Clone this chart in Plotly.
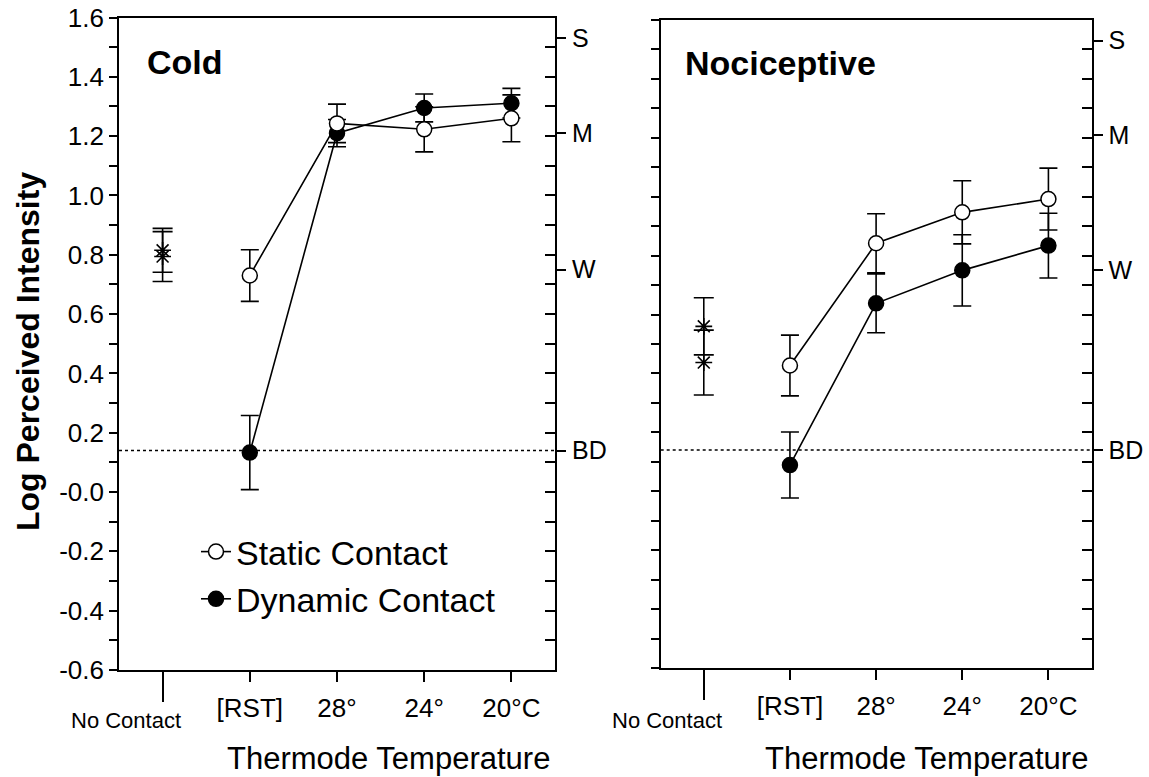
import plotly.graph_objects as go

# ---------------- data ----------------
temp_labels = ["[RST]", "28°", "24°", "20°C"]
no_contact_label = "No Contact"

cold_static = [0.73, 1.243, 1.223, 1.26]
cold_static_err = [0.087, 0.065, 0.076, 0.079]
cold_dynamic = [0.133, 1.21, 1.295, 1.311]
cold_dynamic_err = [0.125, 0.046, 0.047, 0.05]
cold_nocontact = [0.815, 0.794]
cold_nocontact_err = [0.074, 0.084]

noci_static = [0.427, 0.842, 0.947, 0.992]
noci_static_err = [0.103, 0.10, 0.107, 0.105]
noci_dynamic = [0.089, 0.638, 0.75, 0.834]
noci_dynamic_err = [0.112, 0.10, 0.121, 0.11]
noci_nocontact = [0.56, 0.437]
noci_nocontact_err = [0.097, 0.11]

y_tick_vals = [1.6, 1.4, 1.2, 1.0, 0.8, 0.6, 0.4, 0.2, 0.0, -0.2, -0.4, -0.6]
y_tick_labels = ["1.6", "1.4", "1.2", "1.0", "0.8", "0.6", "0.4", "0.2", "-0.0", "-0.2", "-0.4", "-0.6"]
y_minor_vals = [round(-0.6 + 0.1 * i, 1) for i in range(23)]

scale_labels = ["BD", "W", "M", "S"]
scale_values = [0.14, 0.75, 1.21, 1.53]
bd_level = scale_values[0]

panel_titles = ["Cold", "Nociceptive"]
x_title = "Thermode Temperature"
y_title = "Log Perceived Intensity"

# ---------------- figure ----------------
FONT = "Liberation Sans, Arial, Helvetica, sans-serif"
W, H = 1149, 777
temp_x = list(range(1, len(temp_labels) + 1))
LW = 1.6

fig = go.Figure()


def add_panel(xa, ya, static, static_err, dyn, dyn_err, nc, nc_err, legend):
    # dynamic first so static markers sit on top
    fig.add_trace(go.Scatter(
        x=temp_x, y=dyn, mode="lines+markers", name="Dynamic Contact",
        xaxis=xa, yaxis=ya, showlegend=legend, legendrank=2,
        line=dict(color="black", width=LW),
        marker=dict(symbol="circle", size=15, color="black",
                    line=dict(color="black", width=1.5)),
        error_y=dict(type="data", array=dyn_err, visible=True,
                     color="black", thickness=LW, width=9),
    ))
    fig.add_trace(go.Scatter(
        x=temp_x, y=static, mode="lines+markers", name="Static Contact",
        xaxis=xa, yaxis=ya, showlegend=legend, legendrank=1,
        line=dict(color="black", width=LW),
        marker=dict(symbol="circle", size=15, color="white",
                    line=dict(color="black", width=1.5)),
        error_y=dict(type="data", array=static_err, visible=True,
                     color="black", thickness=LW, width=9),
    ))
    fig.add_trace(go.Scatter(
        x=[0] * len(nc), y=nc, mode="markers", name=no_contact_label,
        xaxis=xa, yaxis=ya, showlegend=False,
        marker=dict(symbol="asterisk-open", size=14, color="black",
                    line=dict(color="black", width=1.6)),
        error_y=dict(type="data", array=nc_err, visible=True,
                     color="black", thickness=LW, width=10),
    ))


add_panel("x", "y", cold_static, cold_static_err, cold_dynamic, cold_dynamic_err,
          cold_nocontact, cold_nocontact_err, True)
add_panel("x2", "y2", noci_static, noci_static_err, noci_dynamic, noci_dynamic_err,
          noci_nocontact, noci_nocontact_err, False)

# empty helper traces so the overlay axes get drawn
for xa, ya in (("x3", "y"), ("x", "y3"), ("x", "y5"),
               ("x4", "y2"), ("x2", "y4"), ("x2", "y6")):
    fig.add_trace(go.Scatter(x=[], y=[], xaxis=xa, yaxis=ya, mode="markers",
                             showlegend=False, hoverinfo="skip"))

xdom = [[119 / W, 555 / W], [660.7 / W, 1091.5 / W]]
ydom = [[1 - 670 / H, 1 - 17.5 / H], [1 - 668 / H, 1 - 20 / H]]
xr = [-0.5, 4.5]
yr = [-0.6, 1.6]

base_ax = dict(showgrid=False, zeroline=False, color="black", automargin=False)

layout = dict(
    width=W, height=H, autosize=False,
    margin=dict(l=0, r=0, t=0, b=0, pad=0, autoexpand=False),
    paper_bgcolor="white", plot_bgcolor="white",
    font=dict(family=FONT, color="black"),
    showlegend=True,
    legend=dict(x=196 / W, y=1 - 523 / H, xanchor="left", yanchor="top",
                font=dict(size=34, family=FONT), bgcolor="rgba(0,0,0,0)",
                itemwidth=30, tracegroupgap=0),
)

for i in range(2):
    n = i + 1
    xa = "x" if n == 1 else "x2"
    ya = "y" if n == 1 else "y2"
    sfx = "" if n == 1 else "2"
    layout["xaxis" + sfx] = dict(
        base_ax, domain=xdom[i], range=xr, anchor=ya,
        tickvals=temp_x, ticktext=temp_labels, ticks="outside", ticklen=10,
        tickwidth=LW, tickcolor="black", showline=True, linewidth=LW,
        linecolor="black", mirror=True, tickfont=dict(size=26),
        ticklabelstandoff=4,
    )
    layout["yaxis" + sfx] = dict(
        base_ax, domain=ydom[i], range=yr, anchor=xa,
        tickvals=y_tick_vals, ticktext=y_tick_labels, ticks="outside", ticklen=8,
        tickwidth=LW, tickcolor="black", showline=True, linewidth=LW,
        linecolor="black", mirror=True, tickfont=dict(size=26),
        showticklabels=(n == 1),
        minor=dict(tickvals=y_minor_vals, ticks="outside", ticklen=8,
                   tickwidth=LW, tickcolor="black"),
    )
    # long tick for No Contact
    layout["xaxis" + str(2 + n)] = dict(
        base_ax, overlaying=xa, anchor=ya, range=xr, tickvals=[0],
        ticks="outside", ticklen=31, tickwidth=LW, tickcolor="black",
        showticklabels=False, showline=False,
    )
    # inner ticks on right side
    layout["yaxis" + str(2 + n)] = dict(
        base_ax, overlaying=ya, anchor=xa, side="right", range=yr,
        tickvals=y_minor_vals, ticks="inside", ticklen=10, tickwidth=LW,
        tickcolor="black", showticklabels=False, showline=False,
    )
    # verbal labels on right side
    layout["yaxis" + str(4 + n)] = dict(
        base_ax, overlaying=ya, anchor=xa, side="right", range=yr,
        tickvals=scale_values, ticktext=scale_labels, ticks="outside",
        ticklen=10, tickwidth=LW, tickcolor="black", showline=False,
        tickfont=dict(size=25), ticklabelstandoff=1,
    )

fig.update_layout(**layout)

# BD reference lines
for xa, ya in (("x", "y"), ("x2", "y2")):
    fig.add_shape(type="line", xref=xa + " domain", yref=ya, x0=0, x1=1,
                  y0=bd_level, y1=bd_level,
                  line=dict(color="black", width=1.5, dash="dot"))

ann = []
# panel titles
ann.append(dict(text="<b>" + panel_titles[0] + "</b>", x=145 / W, y=1 - 62 / H,
                xref="paper", yref="paper", xanchor="left", yanchor="middle",
                showarrow=False, font=dict(size=34)))
ann.append(dict(text="<b>" + panel_titles[1] + "</b>", x=683 / W, y=1 - 63 / H,
                xref="paper", yref="paper", xanchor="left", yanchor="middle",
                showarrow=False, font=dict(size=34)))
# No Contact labels
for xa in ("x", "x2"):
    ann.append(dict(text=no_contact_label, x=0, xref=xa, y=1 - 720 / H, yref="paper",
                    xshift=-37, xanchor="center", yanchor="middle",
                    showarrow=False, font=dict(size=22)))
# x titles
ann.append(dict(text=x_title, x=388 / W, y=1 - 758 / H, xref="paper", yref="paper",
                xanchor="center", yanchor="middle", showarrow=False,
                font=dict(size=31)))
ann.append(dict(text=x_title, x=926 / W, y=1 - 758 / H, xref="paper", yref="paper",
                xanchor="center", yanchor="middle", showarrow=False,
                font=dict(size=31)))
# y title
ann.append(dict(text="<b>" + y_title + "</b>", x=28 / W, y=1 - 352 / H,
                xref="paper", yref="paper", xanchor="center", yanchor="middle",
                textangle=-90, showarrow=False, font=dict(size=32)))

fig.update_layout(annotations=ann)

fig.write_html("out.html")
